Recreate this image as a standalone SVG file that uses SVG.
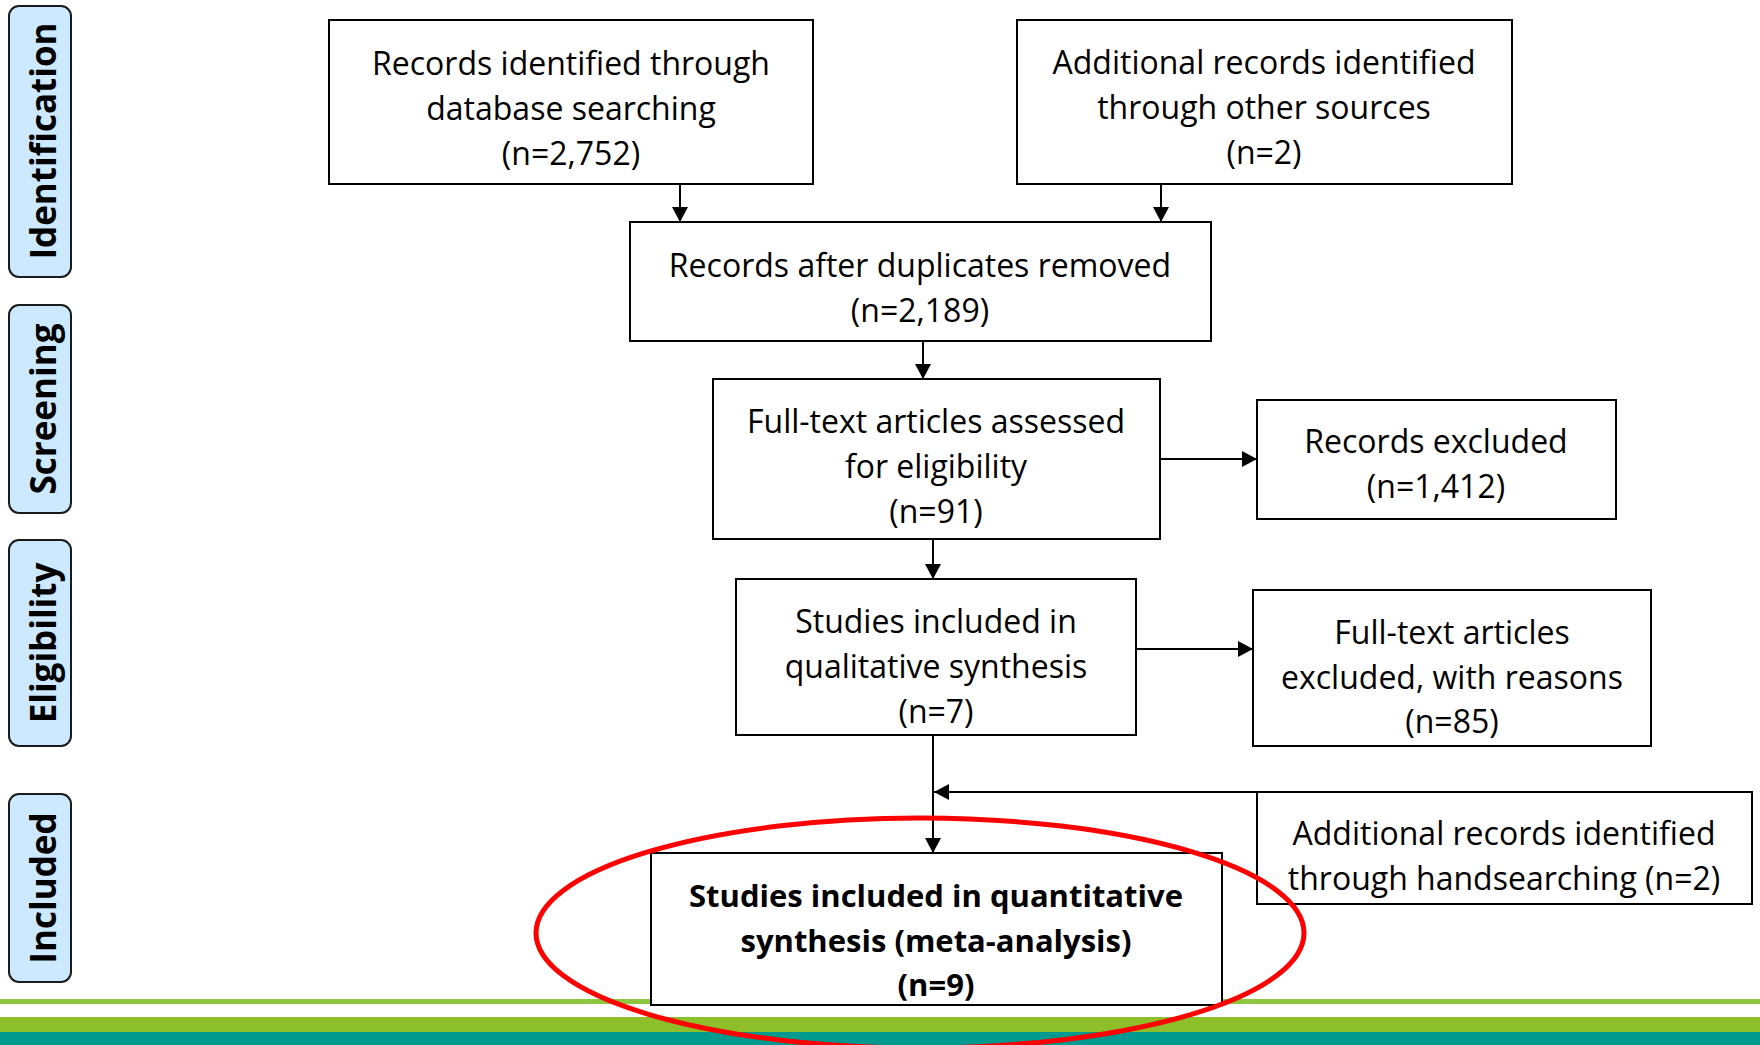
<svg xmlns="http://www.w3.org/2000/svg" width="1760" height="1045" viewBox="0 0 1760 1045">
<style>
.box{fill:#ffffff;stroke:#000000;stroke-width:2}
.stage{fill:#cce9ff;stroke:#1a1a1a;stroke-width:2}
.t{font-family:"Open Sans","Noto Sans",sans-serif;font-size:32px;fill:#000;text-anchor:middle}
.tb{font-family:"Open Sans","Noto Sans",sans-serif;font-size:31px;font-weight:bold;fill:#000;text-anchor:middle}
.st{font-family:"Open Sans","Noto Sans",sans-serif;font-size:35px;font-weight:bold;fill:#000;text-anchor:middle}
.c{stroke:#000;stroke-width:2;fill:none}
</style>
<defs>
<marker id="ah" markerUnits="userSpaceOnUse" markerWidth="16" markerHeight="16" refX="15" refY="8" orient="auto">
<path d="M0,0 L15,8 L0,16 Z" fill="#000"/>
</marker>
</defs>
<rect width="1760" height="1045" fill="#ffffff"/>
<!-- bottom stripes -->
<g id="stripes">
<rect x="0" y="999" width="1760" height="5" fill="#8dc63f"/>
<rect x="0" y="1017" width="1760" height="15" fill="#8cbf2a"/>
<rect x="0" y="1032" width="1760" height="13" fill="#009b8e"/>
</g>
<!-- stage labels -->
<g id="stage-identification">
<rect class="stage" x="9" y="6" width="62" height="271" rx="10"/>
<text class="st" transform="translate(56,141) rotate(-90)">Identification</text>
</g>
<g id="stage-screening">
<rect class="stage" x="9" y="305" width="62" height="208" rx="10"/>
<text class="st" transform="translate(56,409) rotate(-90)">Screening</text>
</g>
<g id="stage-eligibility">
<rect class="stage" x="9" y="540" width="62" height="206" rx="10"/>
<text class="st" transform="translate(56,643) rotate(-90)">Eligibility</text>
</g>
<g id="stage-included">
<rect class="stage" x="9" y="794" width="62" height="188" rx="10"/>
<text class="st" transform="translate(56,888) rotate(-90)">Included</text>
</g>
<!-- nodes -->
<g id="db-search">
<rect class="box" x="329" y="20" width="484" height="164"/>
<text class="t" x="571" y="75">Records identified through</text>
<text class="t" x="571" y="120">database searching</text>
<text class="t" x="571" y="165">(n=2,752)</text>
</g>
<g id="other-sources">
<rect class="box" x="1017" y="20" width="495" height="164"/>
<text class="t" x="1264" y="74">Additional records identified</text>
<text class="t" x="1264" y="119">through other sources</text>
<text class="t" x="1264" y="164">(n=2)</text>
</g>
<g id="dedup">
<rect class="box" x="630" y="222" width="581" height="119"/>
<text class="t" x="920" y="277">Records after duplicates removed</text>
<text class="t" x="920" y="322">(n=2,189)</text>
</g>
<g id="fulltext">
<rect class="box" x="713" y="379" width="447" height="160"/>
<text class="t" x="936" y="433">Full-text articles assessed</text>
<text class="t" x="936" y="478">for eligibility</text>
<text class="t" x="936" y="523">(n=91)</text>
</g>
<g id="records-excluded">
<rect class="box" x="1257" y="400" width="359" height="119"/>
<text class="t" x="1436" y="453">Records excluded</text>
<text class="t" x="1436" y="498">(n=1,412)</text>
</g>
<g id="qualitative">
<rect class="box" x="736" y="579" width="400" height="156"/>
<text class="t" x="936" y="633">Studies included in</text>
<text class="t" x="936" y="678">qualitative synthesis</text>
<text class="t" x="936" y="723">(n=7)</text>
</g>
<g id="fulltext-excluded">
<rect class="box" x="1253" y="590" width="398" height="156"/>
<text class="t" x="1452" y="644">Full-text articles</text>
<text class="t" x="1452" y="689">excluded, with reasons</text>
<text class="t" x="1452" y="733">(n=85)</text>
</g>
<g id="handsearch">
<rect class="box" x="1257" y="792" width="495" height="112"/>
<text class="t" x="1504" y="845">Additional records identified</text>
<text class="t" x="1504" y="890">through handsearching (n=2)</text>
</g>
<g id="quantitative">
<rect class="box" x="651" y="853" width="571" height="152"/>
<text class="tb" x="936" y="907">Studies included in quantitative</text>
<text class="tb" x="936" y="952">synthesis (meta-analysis)</text>
<text class="tb" x="936" y="996">(n=9)</text>
</g>
<!-- connectors -->
<g id="connectors">
<line class="c" x1="680" y1="184" x2="680" y2="222" marker-end="url(#ah)"/>
<line class="c" x1="1161" y1="184" x2="1161" y2="222" marker-end="url(#ah)"/>
<line class="c" x1="923" y1="341" x2="923" y2="379" marker-end="url(#ah)"/>
<line class="c" x1="1160" y1="459" x2="1257" y2="459" marker-end="url(#ah)"/>
<line class="c" x1="933" y1="539" x2="933" y2="579" marker-end="url(#ah)"/>
<line class="c" x1="1136" y1="649" x2="1253" y2="649" marker-end="url(#ah)"/>
<line class="c" x1="933" y1="735" x2="933" y2="853" marker-end="url(#ah)"/>
<line class="c" x1="1257" y1="792" x2="934" y2="792" marker-end="url(#ah)"/>
</g>
<!-- highlight -->
<ellipse id="highlight" cx="920" cy="933" rx="384" ry="115" fill="none" stroke="#ff0000" stroke-width="5"/>
</svg>
